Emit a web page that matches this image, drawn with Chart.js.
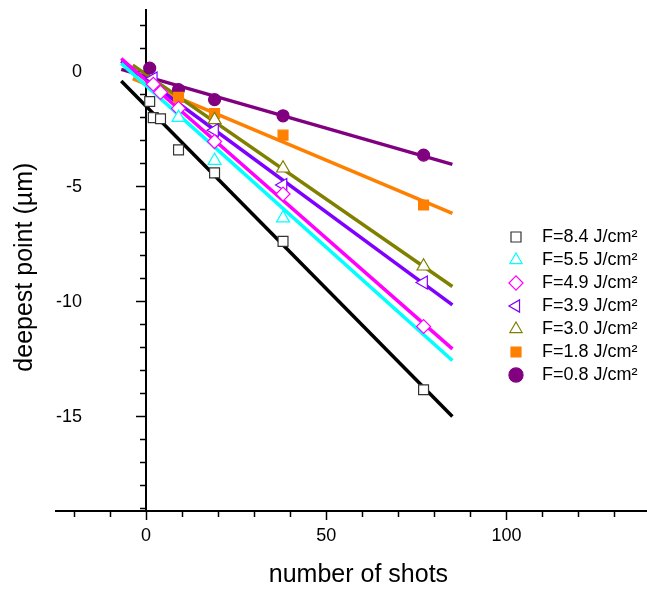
<!DOCTYPE html>
<html>
<head>
<meta charset="utf-8">
<script src="https://cdn.jsdelivr.net/npm/chart.js@4.4.1/dist/chart.umd.min.js"></script>
<style>
  html, body { margin: 0; padding: 0; background: #ffffff; }
  canvas { display: block; }
</style>
</head>
<body>
<canvas id="chart" width="647" height="593"></canvas>
<script>
// ---------------- data ----------------
const seriesLabels = ['F=8.4 J/cm²', 'F=5.5 J/cm²', 'F=4.9 J/cm²', 'F=3.9 J/cm²', 'F=3.0 J/cm²', 'F=1.8 J/cm²', 'F=0.8 J/cm²'];

const shots84 = [1, 2, 4, 9, 19, 38, 77];
const depth84 = [-1.3, -2.0, -2.05, -3.4, -4.4, -7.38, -13.83];
const shots55 = [9, 19, 38];
const depth55 = [-2.0, -3.87, -6.37];
const shots49 = [2, 4, 9, 19, 38, 77];
const depth49 = [-0.55, -0.9, -1.6, -3.04, -5.32, -11.08];
const shots39 = [2, 19, 38, 77];
const depth39 = [-0.3, -2.55, -4.93, -9.17];
const shots30 = [19, 38, 77];
const depth30 = [-2.1, -4.2, -8.46];
const shots18 = [9, 19, 38, 77];
const depth18 = [-1.12, -1.82, -2.76, -5.8];
const shots08 = [1, 9, 19, 38, 77];
const depth08 = [0.15, -0.78, -1.22, -1.92, -3.63];

// fitted straight lines (start / end), same series order as above
const fitShotStart = [-6.9, -6.9, -6.9, -6.9, -3.7, -3.7, -6.9];
const fitDepthStart = [-0.41, 0.36, 0.57, 0.45, 0.28, -0.30, 0.10];
const fitShotEnd = [85, 85, 85, 85, 85, 85, 85];
const fitDepthEnd = [-14.99, -12.56, -12.05, -10.14, -9.34, -6.16, -4.03];

const xTickLabels = [0, 50, 100];
const yTickLabels = [-15, -10, -5, 0];

// ---------------- styles ----------------
const seriesShots = [shots84, shots55, shots49, shots39, shots30, shots18, shots08];
const seriesDepth = [depth84, depth55, depth49, depth39, depth30, depth18, depth08];
const lineColors = ['#000000', '#00FFFF', '#FF00FF', '#8000FF', '#808000', '#FF8000', '#800080'];
const markerStroke = ['#333333', '#00FFFF', '#FF00FF', '#8000FF', '#808000', '#FF8000', '#800080'];
const markerFill = ['#ffffff', '#ffffff', '#ffffff', '#ffffff', '#ffffff', '#FF8000', '#800080'];
const markerStyle = ['rect', 'triangle', 'rectRot', 'triangle', 'triangle', 'rect', 'circle'];
const markerRotation = [0, 0, 0, -90, 0, 0, 0];
const markerRadius = [7, 7.5, 7, 7.5, 7.5, 7, 6];

Chart.defaults.font.family = "'Liberation Sans', Arial, Helvetica, sans-serif";
Chart.defaults.color = '#000000';

const markerSets = seriesLabels.map((lab, i) => ({
  label: lab,
  data: seriesShots[i].map((s, j) => ({ x: s, y: seriesDepth[i][j] })),
  showLine: false,
  pointStyle: markerStyle[i],
  pointRotation: markerRotation[i],
  pointRadius: markerRadius[i],
  pointHoverRadius: markerRadius[i],
  pointBorderWidth: 1.2,
  pointBorderColor: markerStroke[i],
  pointBackgroundColor: markerFill[i],
  borderColor: markerStroke[i],
  backgroundColor: markerFill[i]
}));

const fitSets = seriesLabels.map((lab, i) => ({
  label: 'fit ' + lab,
  data: [
    { x: fitShotStart[i], y: fitDepthStart[i] },
    { x: fitShotEnd[i], y: fitDepthEnd[i] }
  ],
  showLine: true,
  borderColor: lineColors[i],
  backgroundColor: lineColors[i],
  borderWidth: 3.5,
  pointRadius: 0,
  pointHoverRadius: 0,
  fill: false
}));

// place legend inside the plot, on the right
const legendPlacer = {
  id: 'legendPlacer',
  afterLayout(chart) {
    const lg = chart.legend;
    if (!lg) return;
    const w = lg.width, h = lg.height;
    lg.left = 504; lg.top = 223;
    lg.right = lg.left + w; lg.bottom = lg.top + h;
  }
};

// let the x axis run to the right edge of the canvas
const areaStretcher = {
  id: 'areaStretcher',
  afterLayout(chart) {
    const xs = chart.scales.x;
    const right = chart.width;
    if (xs && xs.right < right) {
      xs.right = right;
      xs.width = right - xs.left;
      xs.configure();
      chart.chartArea.right = right;
      chart.chartArea.width = right - chart.chartArea.left;
    }
  }
};

const yMin = -19.1, yMax = 2.7;

new Chart(document.getElementById('chart'), {
  type: 'scatter',
  data: { datasets: [...markerSets, ...fitSets] },
  plugins: [areaStretcher, legendPlacer],
  options: {
    responsive: false,
    animation: false,
    devicePixelRatio: 1,
    layout: { padding: { left: 0, right: 0, top: 9.5, bottom: 0 } },
    plugins: {
      tooltip: { enabled: false },
      legend: {
        position: 'chartArea',
        fullSize: false,
        align: 'start',
        labels: {
          usePointStyle: true,
          boxWidth: 14,
          boxHeight: 10,
          padding: 5,
          color: '#000000',
          font: { size: 18 },
          filter: (item) => item.datasetIndex < seriesLabels.length,
          generateLabels: (chart) =>
            Chart.defaults.plugins.legend.labels.generateLabels(chart)
              .map(l => Object.assign({}, l, { text: '  ' + l.text }))
        }
      }
    },
    scales: {
      x: {
        type: 'linear',
        position: 'bottom',
        min: -25,
        max: 139,
        border: { display: true, color: '#000000', width: 2 },
        grid: {
          drawOnChartArea: false,
          drawTicks: true,
          tickLength: 9,
          tickColor: '#000000',
          tickWidth: 1.5,
          tickBorderDash: (c) => (c.tick && c.tick.value % 50 === 0) ? [] : [5, 60]
        },
        ticks: {
          stepSize: 10,
          includeBounds: false,
          autoSkip: false,
          maxRotation: 0,
          padding: 5,
          color: '#000000',
          font: { size: 18 },
          callback: (v) => xTickLabels.includes(v) ? String(v) : ''
        },
        title: {
          display: true,
          text: '  number of shots',
          color: '#000000',
          font: { size: 25 },
          padding: { top: 8.7, bottom: 2.7 }
        }
      },
      y: {
        type: 'linear',
        position: { x: 0 },
        min: yMin,
        max: yMax,
        afterFit: (scale) => { scale.width = 0; },
        border: { display: true, color: '#000000', width: 2 },
        grid: {
          drawOnChartArea: false,
          drawTicks: true,
          tickLength: 9,
          tickColor: '#000000',
          tickWidth: 1.5,
          tickBorderDash: (c) => (c.tick && c.tick.value % 5 === 0) ? [] : [5, 60]
        },
        ticks: { display: false, stepSize: 1, includeBounds: false, autoSkip: false }
      },
      yl: {
        type: 'linear',
        position: 'left',
        min: yMin,
        max: yMax,
        border: { display: false },
        grid: { display: false, drawTicks: false, drawOnChartArea: false },
        ticks: {
          stepSize: 5,
          includeBounds: false,
          autoSkip: false,
          mirror: true,
          crossAlign: 'far',
          padding: 0,
          color: '#000000',
          font: { size: 18, lineHeight: 1 },
          callback: (v) => yTickLabels.includes(v) ? String(v) : ''
        },
        title: {
          display: true,
          text: 'deepest point (µm)  ',
          color: '#000000',
          font: { size: 25 },
          padding: { top: 10, bottom: 16 }
        }
      }
    }
  }
});
</script>
</body>
</html>
